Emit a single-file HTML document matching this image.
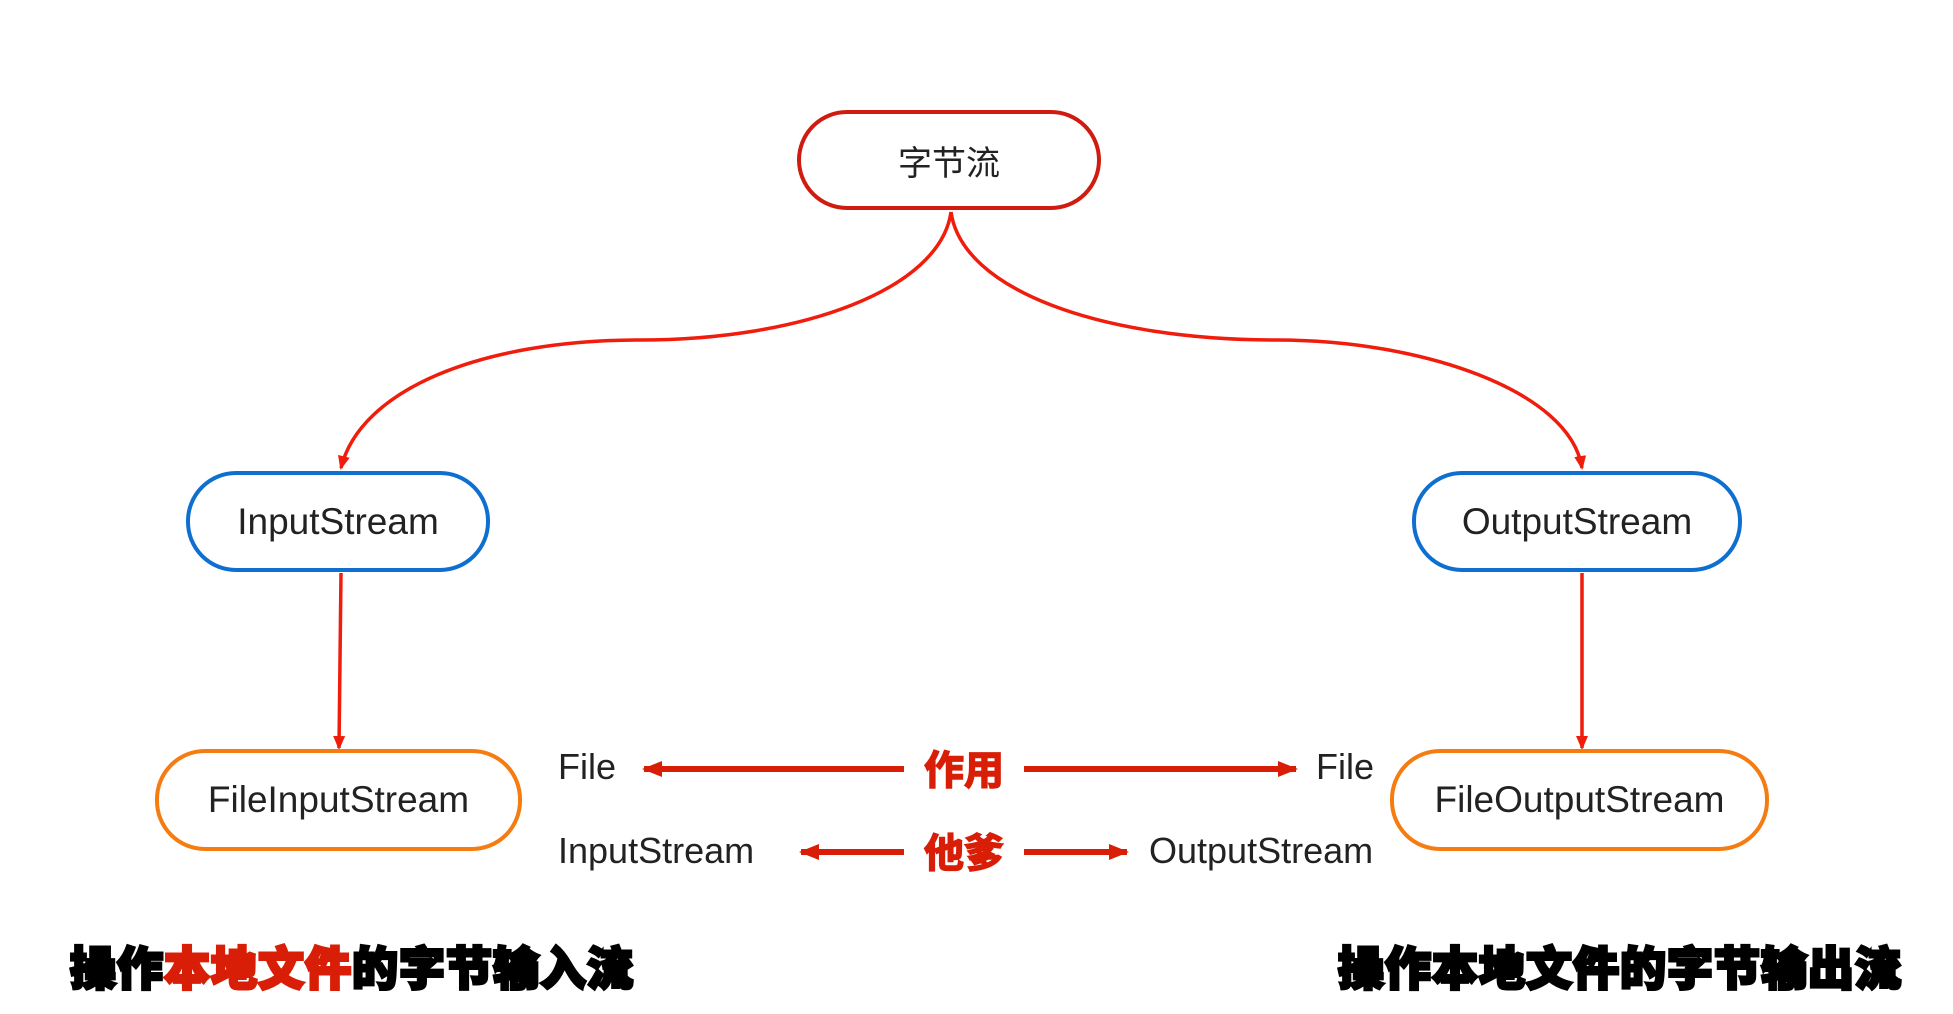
<!DOCTYPE html>
<html><head><meta charset="utf-8"><style>
body{margin:0;background:#fff;width:1953px;height:1014px;overflow:hidden;position:relative;font-family:"Liberation Sans","Noto Sans CJK SC",sans-serif}
.box{position:absolute;box-sizing:border-box;border-radius:50px;background:#fff;display:flex;align-items:center;justify-content:center;font-size:37px;color:#222}
.t{position:absolute;font-size:36px;color:#222;line-height:1;transform:translateY(-50%)}
.r{position:absolute;font-size:40px;color:#d81e06;font-weight:bold;line-height:1;transform:translateY(-50%);-webkit-text-stroke:1.5px #d81e06}
.cap{position:absolute;font-size:46px;font-weight:900;color:#000;line-height:1;transform:translateY(-50%);-webkit-text-stroke:3px #000;letter-spacing:1px;white-space:nowrap;font-family:"Noto Sans CJK SC",sans-serif}
</style></head><body>
<svg width="1953" height="1014" style="position:absolute;left:0;top:0">
<defs><marker id="a" markerWidth="14" markerHeight="14" refX="12" refY="7" orient="auto" markerUnits="userSpaceOnUse"><path d="M0,1 L14,7 L0,13 Z" fill="#f01c0c"/></marker>
<marker id="b" markerWidth="20" markerHeight="20" refX="18" refY="10" orient="auto" markerUnits="userSpaceOnUse"><path d="M0,2 L20,10 L0,18 Z" fill="#d81e06"/></marker></defs>
<g fill="none" stroke="#f01c0c" stroke-width="3.5">
<path d="M951,212 C940,290 800,340 640,340 C480,340 360,390 341,468" marker-end="url(#a)"/>
<path d="M951,212 C962,290 1100,340 1277,340 C1420,340 1570,390 1582,468" marker-end="url(#a)"/>
<path d="M341,573 L339,748" marker-end="url(#a)"/>
<path d="M1582,573 L1582,748" marker-end="url(#a)"/>
</g>
<g fill="none" stroke="#d81e06" stroke-width="6">
<path d="M904,769 L644,769" marker-end="url(#b)"/>
<path d="M1024,769 L1296,769" marker-end="url(#b)"/>
<path d="M904,852 L801,852" marker-end="url(#b)"/>
<path d="M1024,852 L1127,852" marker-end="url(#b)"/>
</g>
</svg>
<div class="box" style="left:797px;top:110px;width:304px;height:100px;border:4px solid #d01c10;font-family:'Noto Sans CJK SC',sans-serif;font-size:34px">字节流</div>
<div class="box" style="left:186px;top:471px;width:304px;height:101px;border:4px solid #0f6fd0">InputStream</div>
<div class="box" style="left:1412px;top:471px;width:330px;height:101px;border:4px solid #0f6fd0">OutputStream</div>
<div class="box" style="left:1390px;top:749px;width:379px;height:102px;border:4px solid #f57c10">FileOutputStream</div>
<div class="box" style="left:155px;top:749px;width:367px;height:102px;border:4px solid #f57c10">FileInputStream</div>
<div class="t" style="left:558px;top:767px">File</div>
<div class="t" style="left:1316px;top:767px">File</div>
<div class="t" style="left:558px;top:851px">InputStream</div>
<div class="t" style="left:1149px;top:851px">OutputStream</div>
<div class="r" style="left:924px;top:771px">作用</div>
<div class="r" style="left:924px;top:854px">他爹</div>
<div class="cap" style="left:70px;top:966px">操作<span style="color:#d81e06;-webkit-text-stroke:3px #d81e06">本地文件</span>的字节输入流</div>
<div class="cap" style="left:1338px;top:966px">操作本地文件的字节输出流</div>
</body></html>
